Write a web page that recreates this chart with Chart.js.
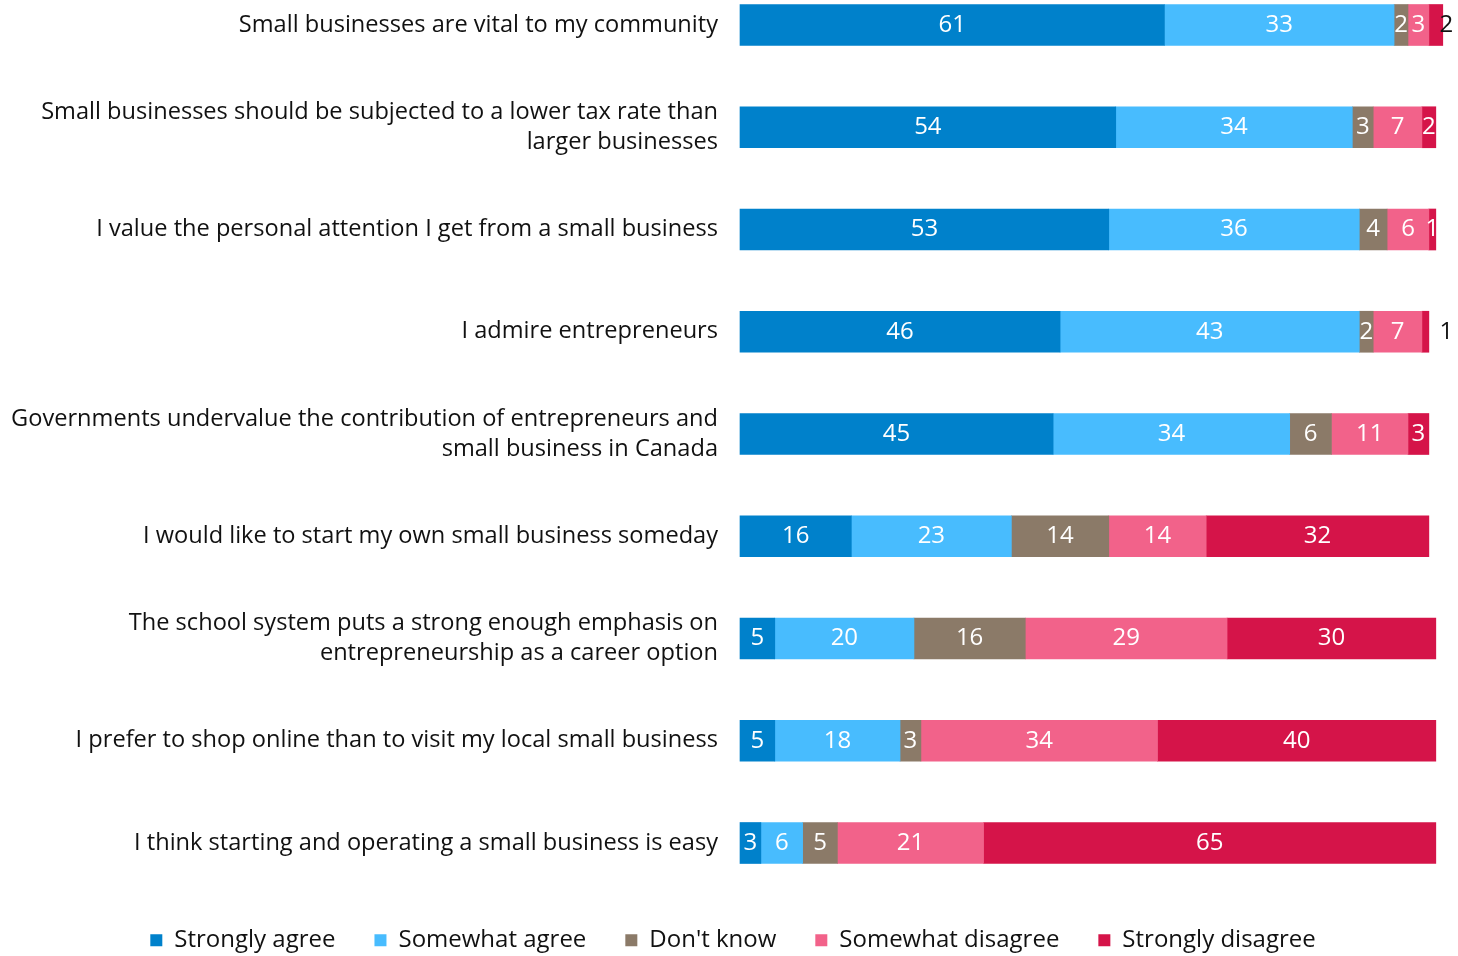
<!doctype html>
<html>
<head>
	<title>Small business attitudes</title>
	<script src="https://cdn.jsdelivr.net/npm/chart.js@4.4.1/dist/chart.umd.min.js"></script>
	<style>
		body { margin: 0; background: #fff; }
		#container { width: 1458px; height: 956px; }
	</style>
</head>
<body>
	<div id="container"><canvas id="canvas"></canvas></div>
	<script>
		var statements = [
			'Small businesses are vital to my community',
			['Small businesses should be subjected to a lower tax rate than', 'larger businesses'],
			'I value the personal attention I get from a small business',
			'I admire entrepreneurs',
			['Governments undervalue the contribution of entrepreneurs and', 'small business in Canada'],
			'I would like to start my own small business someday',
			['The school system puts a strong enough emphasis on', 'entrepreneurship as a career option'],
			'I prefer to shop online than to visit my local small business',
			'I think starting and operating a small business is easy'
		];
		var stronglyAgree    = [61, 54, 53, 46, 45, 16, 5, 5, 3];
		var somewhatAgree    = [33, 34, 36, 43, 34, 23, 20, 18, 6];
		var dontKnow         = [2, 3, 4, 2, 6, 14, 16, 3, 5];
		var somewhatDisagree = [3, 7, 6, 7, 11, 14, 29, 34, 21];
		var stronglyDisagree = [2, 2, 1, 1, 3, 32, 30, 40, 65];

		// labels drawn to the right of the bar in black
		var outsideLabels = { '4-0': true, '4-3': true };

		var FONT = "'Open Sans', 'Noto Sans', sans-serif";

		var valueLabels = {
			id: 'valueLabels',
			afterDatasetsDraw: function (chart) {
				var ctx = chart.ctx;
				var xs = chart.scales.x;
				ctx.save();
				ctx.font = '500 24px ' + FONT;
				ctx.textAlign = 'center';
				ctx.textBaseline = 'middle';
				chart.data.datasets.forEach(function (ds, di) {
					var meta = chart.getDatasetMeta(di);
					meta.data.forEach(function (bar, i) {
						var v = ds.data[i];
						if (outsideLabels[di + '-' + i]) {
							ctx.fillStyle = '#111';
							ctx.fillText(v, xs.getPixelForValue(101.5), bar.y);
						} else {
							ctx.fillStyle = '#fff';
							ctx.fillText(v, (bar.x + bar.base) / 2, bar.y);
						}
					});
				});
				ctx.restore();
			}
		};

		var ctx = document.getElementById('canvas').getContext('2d');
		new Chart(ctx, {
			type: 'bar',
			data: {
				labels: statements,
				datasets: [
					{ label: 'Strongly agree', data: stronglyAgree, backgroundColor: '#0081CB' },
					{ label: 'Somewhat agree', data: somewhatAgree, backgroundColor: '#48BCFE' },
					{ label: "Don't know", data: dontKnow, backgroundColor: '#8B7A68' },
					{ label: 'Somewhat disagree', data: somewhatDisagree, backgroundColor: '#F2628A' },
					{ label: 'Strongly disagree', data: stronglyDisagree, backgroundColor: '#D51449' }
				]
			},
			options: {
				indexAxis: 'y',
				responsive: true,
				maintainAspectRatio: false,
				animation: false,
				layout: { padding: { left: 10, right: 2, top: 0, bottom: -12 } },
				datasets: { bar: { barThickness: 41, clip: false, borderWidth: 0 } },
				scales: {
					x: {
						stacked: true, min: 0, max: 102.9,
						display: false
					},
					y: {
						stacked: true,
						offset: false,
						border: { display: false },
						grid: { display: false, offset: false },
						ticks: {
							padding: 14,
							color: '#111',
							font: { family: FONT, size: 23.6, lineHeight: 1.27 }
						},
						afterFit: function (scale) {
							scale.width = 730;
							scale.paddingTop = 25;
							scale.paddingBottom = 113;
						}
					}
				},
				plugins: {
					tooltip: { enabled: false },
					legend: {
						position: 'bottom',
						title: {
							display: true,
							text: ' ',
							font: { size: 1 },
							padding: { top: 45, bottom: 0 }
						},
						labels: {
							boxWidth: 12,
							boxHeight: 12,
							padding: 39,
							color: '#111',
							font: { family: FONT, size: 24 }
						}
					}
				}
			},
			plugins: [valueLabels]
		});
	</script>
</body>
</html>
